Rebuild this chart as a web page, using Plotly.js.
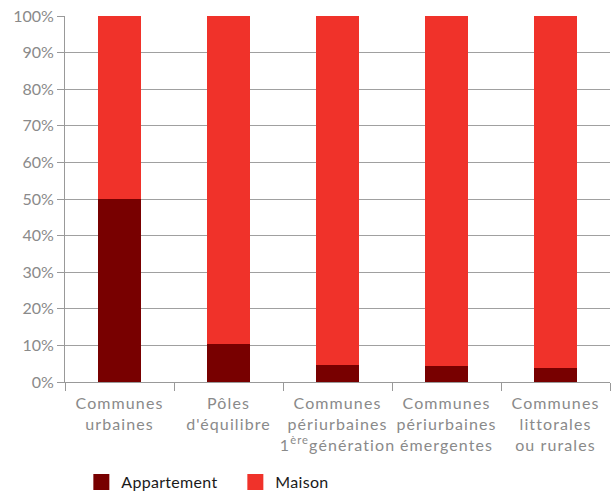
<!DOCTYPE html>
<html>
<head>
<meta charset="utf-8">
<script src="https://cdn.plot.ly/plotly-3.0.1.min.js"></script>
<style>
html,body{margin:0;padding:0;background:#fff;}
#chart{width:613px;height:493px;}
.xtick text{letter-spacing:1.1px;}
.legendtext{letter-spacing:0.3px;}
</style>
</head>
<body>
<div id="chart"></div>
<script>
const categories = [
  "Communes<br>urbaines",
  "Pôles<br>d'équilibre",
  "Communes<br>périurbaines<br>1<sup>ère</sup>génération",
  "Communes<br>périurbaines<br>émergentes",
  "Communes<br>littorales<br>ou rurales"
];
const appartement = [50.1, 10.4, 4.7, 4.4, 3.7];
const maison = [49.9, 89.6, 95.3, 95.6, 96.3];
const seriesNames = ['Appartement', 'Maison'];
const seriesColors = ['#780000', '#f0322a'];

const FONT = "Lato, 'Open Sans', sans-serif";
const traces = [
  {type: 'bar', name: seriesNames[0], x: categories, y: appartement,
   marker: {color: seriesColors[0]}, showlegend: false},
  {type: 'bar', name: seriesNames[1], x: categories, y: maison,
   marker: {color: seriesColors[1]}, showlegend: false},
  // legend keys (square swatches)
  {type: 'scatter', mode: 'markers', name: seriesNames[0], x: [null], y: [null],
   marker: {symbol: 'square', size: 16, color: seriesColors[0]}},
  {type: 'scatter', mode: 'markers', name: seriesNames[1], x: [null], y: [null],
   marker: {symbol: 'square', size: 16, color: seriesColors[1]}}
];
const layout = {
  width: 613, height: 493,
  margin: {l: 65, r: 3, t: 16, b: 111, autoexpand: false},
  barmode: 'stack',
  bargap: 0.6,
  paper_bgcolor: '#fff', plot_bgcolor: '#fff',
  font: {family: FONT, color: '#8a8a8a', size: 15},
  xaxis: {
    type: 'category',
    tickson: 'boundaries',
    tickangle: 0,
    ticks: 'outside', ticklen: 8, tickcolor: '#999', tickwidth: 1,
    ticklabelstandoff: 7,
    showline: true, linecolor: '#999', linewidth: 1,
    showgrid: false, automargin: false,
    tickfont: {family: FONT, size: 16, color: '#8a8a8a'},
    fixedrange: true
  },
  yaxis: {
    range: [0, 100], dtick: 10, ticksuffix: '%',
    ticks: 'outside', ticklen: 7, tickcolor: '#999', tickwidth: 1,
    showline: true, linecolor: '#999', linewidth: 1,
    showgrid: true, gridcolor: '#a0a0a0', gridwidth: 1,
    zeroline: false, automargin: false,
    tickfont: {family: FONT, size: 16, color: '#8a8a8a'},
    fixedrange: true
  },
  showlegend: true,
  legend: {
    orientation: 'h', traceorder: 'normal',
    x: 0.03, xanchor: 'left', y: -0.227, yanchor: 'top',
    font: {family: FONT, size: 16, color: '#1a1a1a'},
    itemwidth: 30, entrywidth: 109, entrywidthmode: 'pixels'
  }
};
Plotly.newPlot('chart', traces, layout, {displayModeBar: false, staticPlot: true});
</script>
</body>
</html>
